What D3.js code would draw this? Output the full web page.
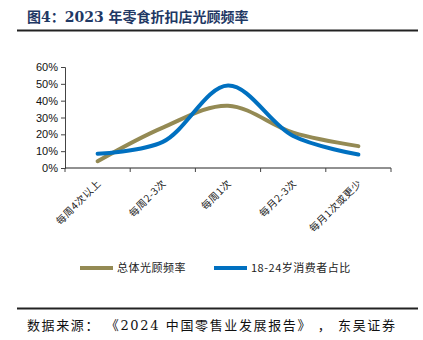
<!DOCTYPE html>
<html>
<head>
<meta charset="utf-8">
<script src="https://cdn.jsdelivr.net/npm/d3@7"></script>
<style>
  body { margin: 0; background: #fff; }
  #chart svg { display: block; }
</style>
</head>
<body>
<div id="chart"></div>
<script>
const categories = ["每周4次以上", "每周2-3次", "每周1次", "每月2-3次", "每月1次或更少"];
const overall = [0.04, 0.24, 0.37, 0.21, 0.13];
const youth = [0.085, 0.155, 0.49, 0.19, 0.08];
const yTicks = [0, 0.1, 0.2, 0.3, 0.4, 0.5, 0.6];
const seriesNames = ["总体光顾频率", "18-24岁消费者占比"];
const seriesColors = ["#948a54", "#0070c0"];

const width = 423;
const height = 340;

const svg = d3.select("#chart").append("svg")
    .attr("width", width)
    .attr("height", height);

// title
svg.append("text")
    .attr("x", 27)
    .attr("y", 22)
    .attr("fill", "#1f3864")
    .attr("font-family", "'DejaVu Serif', 'Noto Sans CJK SC', serif")
    .attr("font-weight", "bold")
    .attr("font-size", 14)
    .text("图4：2023 年零食折扣店光顾频率");

svg.append("line")
    .attr("x1", 17).attr("x2", 418)
    .attr("y1", 30.5).attr("y2", 30.5)
    .attr("stroke", "#222").attr("stroke-width", 2);

const x = d3.scaleBand()
    .domain(categories)
    .range([65, 391]);

const y = d3.scaleLinear()
    .domain([0, 0.6])
    .range([168, 67]);

// y axis
const yAxis = svg.append("g")
    .attr("transform", "translate(65,0)")
    .call(d3.axisLeft(y).tickValues(yTicks).tickFormat(d3.format(".0%")).tickSizeOuter(0).tickSize(4));
yAxis.selectAll("text")
    .attr("font-family", "'Liberation Sans', Arial, sans-serif")
    .attr("font-size", 11)
    .attr("fill", "#111");
yAxis.selectAll("line, path").attr("stroke", "#444");

// x axis (ticks at band edges)
const xAxis = svg.append("g")
    .attr("transform", "translate(0,168)");
xAxis.append("line")
    .attr("x1", 65).attr("x2", 391)
    .attr("stroke", "#222");
const edges = categories.map(c => x(c)).concat([x.range()[1]]);
xAxis.selectAll(".edge")
    .data(edges)
    .enter().append("line")
    .attr("class", "edge")
    .attr("x1", d => d).attr("x2", d => d)
    .attr("y1", 0).attr("y2", 4)
    .attr("stroke", "#444");
xAxis.selectAll(".lab")
    .data(categories)
    .enter().append("text")
    .attr("class", "lab")
    .attr("transform", d => "translate(" + (x(d) + x.bandwidth() / 2 + 4) + ",16) rotate(-45)")
    .attr("text-anchor", "end")
    .attr("font-family", "'Noto Sans CJK SC', sans-serif")
    .attr("font-size", 10)
    .attr("letter-spacing", 0.5)
    .attr("fill", "#222")
    .text(d => d);

const line = d3.line()
    .x((d, i) => x(categories[i]) + x.bandwidth() / 2)
    .y(d => y(d))
    .curve(d3.curveCatmullRom.alpha(0.5));

[overall, youth].forEach(function(vals, k) {
    svg.append("path")
        .datum(vals)
        .attr("d", line)
        .attr("fill", "none")
        .attr("stroke", seriesColors[k])
        .attr("stroke-width", 4)
        .attr("stroke-linecap", "round");
});

// legend
const legendX = [80, 214];
seriesNames.forEach(function(name, k) {
    svg.append("line")
        .attr("x1", legendX[k]).attr("x2", legendX[k] + 33)
        .attr("y1", 268).attr("y2", 268)
        .attr("stroke", seriesColors[k])
        .attr("stroke-width", 4);
    svg.append("text")
        .attr("x", legendX[k] + 37)
        .attr("y", 272)
        .attr("font-family", "'Noto Sans CJK SC', sans-serif")
        .attr("font-size", 11)
        .attr("letter-spacing", 0.5)
        .attr("fill", "#222")
        .text(name);
});

svg.append("line")
    .attr("x1", 17).attr("x2", 418)
    .attr("y1", 308.5).attr("y2", 308.5)
    .attr("stroke", "#222").attr("stroke-width", 2);

svg.append("text")
    .attr("x", 27)
    .attr("y", 330)
    .attr("font-family", "'DejaVu Serif', 'Noto Sans CJK SC', serif")
    .attr("font-size", 13)
    .attr("fill", "#111")
    .attr("textLength", 368)
    .attr("lengthAdjust", "spacing")
    .text("数据来源： 《2024 中国零售业发展报告》 ， 东吴证券");
</script>
</body>
</html>
